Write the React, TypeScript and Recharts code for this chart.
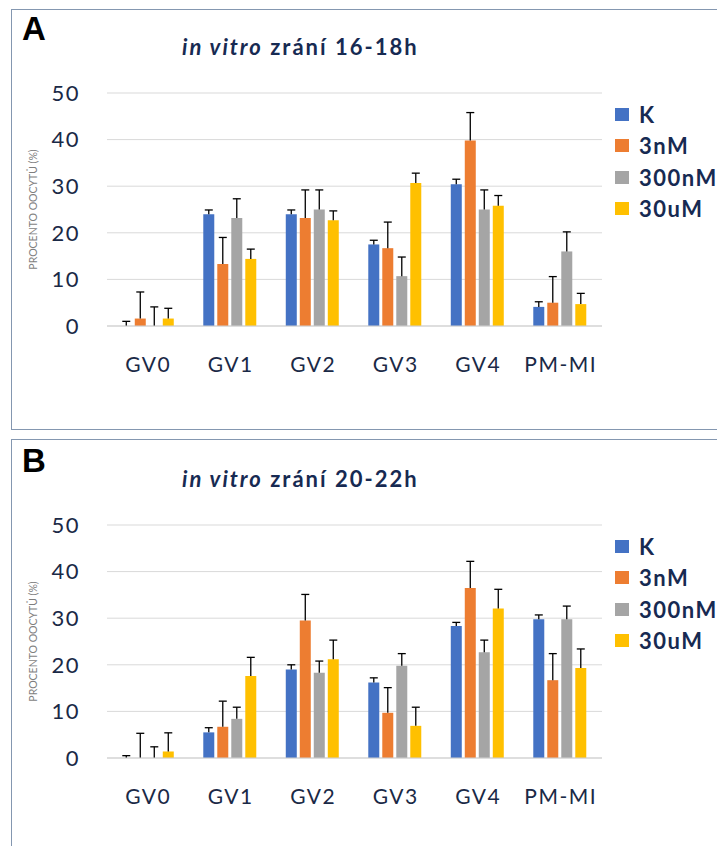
import React from 'react'
import { Bar, BarChart, CartesianGrid, XAxis, YAxis } from 'recharts'

const categories = ['GV0', 'GV1', 'GV2', 'GV3', 'GV4', 'PM-MI']
const seriesNames = ['K', '3nM', '300nM', '30uM']
const seriesColors = ['#4472c4', '#ed7d31', '#a5a5a5', '#ffc000']
const yTicks = [0, 10, 20, 30, 40, 50]

// panel A: in vitro zrání 16-18h
const aK = [0, 24.0, 24.0, 17.5, 30.4, 4.1]
const aKErr = [1.0, 0.9, 0.9, 0.9, 1.1, 1.1]
const a3nM = [1.6, 13.3, 23.2, 16.7, 39.8, 5.0]
const a3nMErr = [5.7, 5.7, 6.0, 5.6, 6.0, 5.6]
const a300nM = [0, 23.2, 25.0, 10.7, 25.0, 16.0]
const a300nMErr = [4.1, 4.1, 4.2, 4.1, 4.2, 4.2]
const a30uM = [1.6, 14.4, 22.7, 30.7, 25.8, 4.7]
const a30uMErr = [2.2, 2.1, 2.0, 2.1, 2.2, 2.3]

// panel B: in vitro zrání 20-22h
const bK = [0, 5.5, 19.0, 16.2, 28.3, 29.8]
const bKErr = [0.5, 1.0, 1.0, 1.0, 0.8, 0.9]
const b3nM = [0, 6.7, 29.5, 9.7, 36.5, 16.7]
const b3nMErr = [5.3, 5.5, 5.6, 5.4, 5.7, 5.7]
const b300nM = [0, 8.4, 18.3, 19.8, 22.7, 29.8]
const b300nMErr = [2.4, 2.5, 2.5, 2.6, 2.6, 2.8]
const b30uM = [1.4, 17.6, 21.2, 6.9, 32.1, 19.3]
const b30uMErr = [4.0, 4.0, 4.1, 4.0, 4.1, 4.1]

const TEXT = '#1a2946'
const NAVY = '#172a52'
const FONT = 'Lato, "Open Sans", sans-serif'

function buildRows(values: number[][], errors: number[][]) {
  return categories.map((cat, i) => {
    const row: Record<string, number | string> = { cat }
    values.forEach((v, s) => {
      row[`v${s}`] = v[i]
      row[`e${s}`] = errors[s][i]
    })
    return row
  })
}

const rowsA = buildRows([aK, a3nM, a300nM, a30uM], [aKErr, a3nMErr, a300nMErr, a30uMErr])
const rowsB = buildRows([bK, b3nM, b300nM, b30uM], [bKErr, b3nMErr, b300nMErr, b30uMErr])

// plus-only error whisker drawn as the top segment of each stack
function ErrShape(props: any) {
  const { x, y, width, height } = props
  if (x == null || y == null) return null
  const cx = x + width / 2
  return (
    <g>
      <line x1={cx} y1={y} x2={cx} y2={y + height} stroke="#000" strokeWidth={1.3} />
      <line x1={cx - 4} y1={y} x2={cx + 4} y2={y} stroke="#000" strokeWidth={1.3} />
    </g>
  )
}

function Panel({ letter, hours, rows, top }: { letter: string; hours: string; rows: any[]; top: number }) {
  return (
    <div style={{ position: 'absolute', left: 0, top, width: 725, height: 430 }}>
      <div
        style={{
          position: 'absolute',
          left: 22,
          top: 10,
          fontFamily: 'Arial, "Liberation Sans", sans-serif',
          fontWeight: 700,
          fontSize: 33,
          color: '#000'
        }}
      >
        {letter}
      </div>
      <div
        style={{
          position: 'absolute',
          left: 182,
          top: 33,
          fontFamily: FONT,
          fontWeight: 700,
          fontSize: 22,
          letterSpacing: 2,
          color: NAVY,
          whiteSpace: 'nowrap'
        }}
      >
        <i>in vitro</i> zrání {hours}
      </div>
      <BarChart
        width={725}
        height={430}
        data={rows}
        margin={{ top: 93, right: 123, bottom: 0, left: 0 }}
        barCategoryGap="16.7%"
        barGap={3}
      >
        <CartesianGrid vertical={false} stroke="#d9d9d9" />
        <XAxis
          dataKey="cat"
          height={104}
          axisLine={{ stroke: '#d0d0d0' }}
          tickLine={false}
          tickMargin={25}
          tick={{ fill: TEXT, fontSize: 21, fontFamily: FONT, letterSpacing: 1.5 }}
        />
        <YAxis
          width={107}
          domain={[0, 50]}
          ticks={yTicks}
          axisLine={false}
          tickLine={false}
          tickMargin={21}
          tick={{ fill: TEXT, fontSize: 22, fontFamily: FONT, letterSpacing: 1.5 }}
          label={{
            value: 'PROCENTO OOCYTŮ (%)',
            angle: -90,
            position: 'center',
            dx: -20,
            fill: '#7f7f7f',
            fontSize: 10.5,
            fontFamily: FONT
          }}
        />
        {seriesNames.map((name, s) => [
          <Bar key={`v${s}`} dataKey={`v${s}`} name={name} stackId={`s${s}`} fill={seriesColors[s]} isAnimationActive={false} />,
          <Bar key={`e${s}`} dataKey={`e${s}`} stackId={`s${s}`} fill="none" shape={ErrShape} isAnimationActive={false} />
        ])}
      </BarChart>
      <div style={{ position: 'absolute', left: 615, top: 99 }}>
        {seriesNames.map((name, s) => (
          <div key={name} style={{ display: 'flex', alignItems: 'center', height: 31.3 }}>
            <div style={{ width: 14, height: 13, background: seriesColors[s], marginRight: 10 }} />
            <span
              style={{
                fontFamily: FONT,
                fontWeight: 700,
                fontSize: 22,
                letterSpacing: 1.5,
                color: NAVY
              }}
            >
              {name}
            </span>
          </div>
        ))}
      </div>
    </div>
  )
}

export default function App() {
  return (
    <div
      style={{
        position: 'relative',
        width: 725,
        height: 854,
        margin: -8,
        overflow: 'hidden',
        background: '#fff'
      }}
    >
      <div style={{ position: 'absolute', left: 11, top: 9, width: 730, height: 419, border: '1.5px solid #8497b0' }} />
      <div style={{ position: 'absolute', left: 11, top: 439, width: 730, height: 430, border: '1.5px solid #8497b0' }} />
      <Panel letter="A" hours="16-18h" rows={rowsA} top={0} />
      <Panel letter="B" hours="20-22h" rows={rowsB} top={432} />
    </div>
  )
}
